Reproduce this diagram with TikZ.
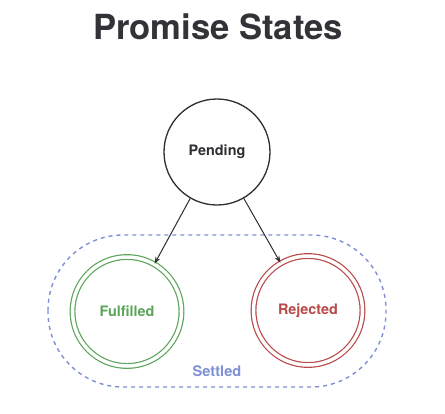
\documentclass[tikz,border=0pt]{standalone}
\usepackage{fontspec}
\setmainfont{TeX Gyre Heros}
\usetikzlibrary{arrows.meta}
\definecolor{titlegray}{HTML}{323238}
\definecolor{okgreen}{HTML}{5BA55A}
\definecolor{badred}{HTML}{B94848}
\definecolor{setblue}{HTML}{7E8FD6}
\definecolor{ink}{HTML}{2E2E33}
\tikzset{
  state/.style={circle, draw=ink, line width=1.3pt, minimum size=106pt, inner sep=0pt, text=ink, font=\fontsize{14.4}{16}\selectfont\bfseries},
  final/.style={circle, double distance=3.5pt, line width=1.2pt, minimum size=109pt, inner sep=0pt, font=\fontsize{14.4}{16}\selectfont\bfseries},
  conn/.style={-{Stealth[length=7pt,width=5pt]}, line width=1pt, draw=ink}
}
\begin{document}
\begin{tikzpicture}[x=1pt,y=-1pt]
\useasboundingbox (0,0) rectangle (445,413);
\node[text=titlegray, font=\fontsize{34.6}{38}\selectfont\bfseries] (title) at (218,27) {Promise States};
\node[state] (pending) at (217,152) {Pending};
\node[final, draw=okgreen, text=okgreen] (ful) at (127,311.5) {Fulfilled};
\node[final, draw=badred, text=badred] (rej) at (308,310.5) {Rejected};
\draw[setblue, line width=1.4pt, dash pattern=on 4pt off 4pt, rounded corners=75pt] (48,235) rectangle (386,387);
\node[text=setblue, font=\fontsize{14.6}{16}\selectfont\bfseries] (settled) at (217,371) {Settled};
\draw[conn] (pending.240) -- (ful.60);
\draw[conn] (pending.300) -- (rej.120);
\end{tikzpicture}
\end{document}
